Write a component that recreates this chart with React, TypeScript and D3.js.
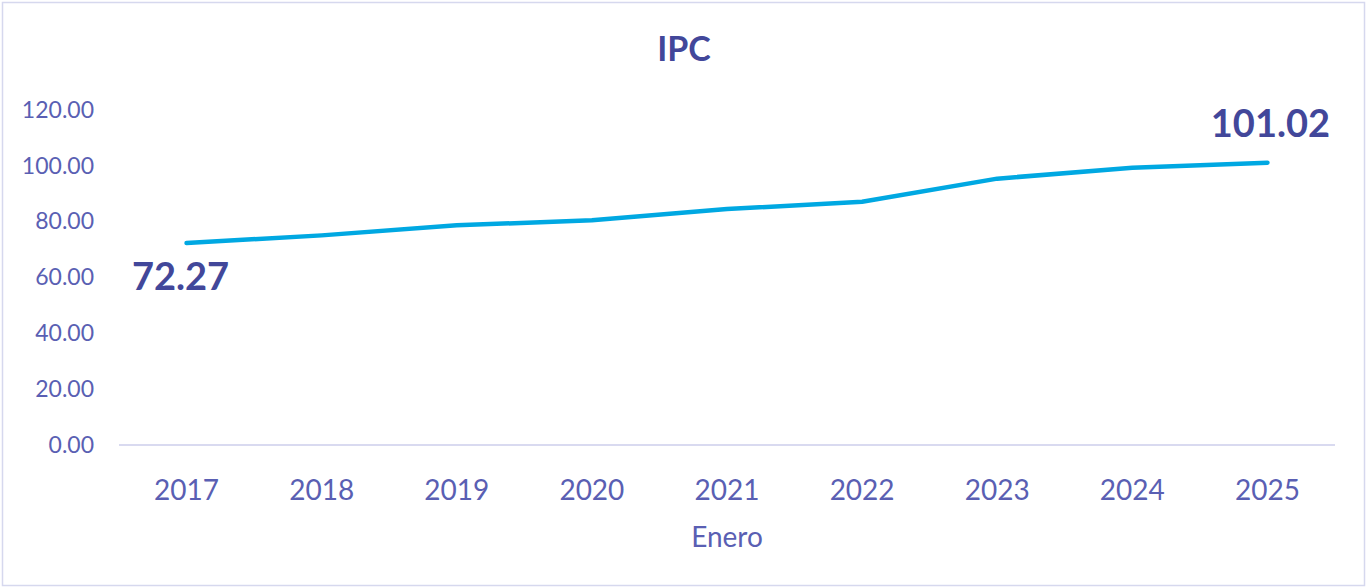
import React from "react";
import * as d3 from "d3";

const years = ["2017", "2018", "2019", "2020", "2021", "2022", "2023", "2024", "2025"];
const ipc = [72.27, 75.0, 78.6, 80.4, 84.4, 87.0, 95.3, 99.2, 101.02];
const yTicks = [0, 20, 40, 60, 80, 100, 120];

const W = 1366;
const H = 587;
const textColor = "#5a5fb3";
const labelColor = "#42479a";
const font = "Lato, 'Open Sans', sans-serif";

export default function App() {
  const x = d3.scaleBand<string>().domain(years).range([119, 1335]).padding(0);
  const y = d3.scaleLinear().domain([0, 120]).range([445, 109.6]);
  const cx = (d: string) => (x(d) as number) + x.bandwidth() / 2;

  const line = d3
    .line<number>()
    .x((_, i) => cx(years[i]))
    .y((v) => y(v));

  const first = ipc[0];
  const last = ipc[ipc.length - 1];

  return (
    <svg
      width={W}
      height={H}
      style={{ position: "absolute", left: 0, top: 0, background: "#fff" }}
      fontFamily={font}
    >
      <rect x={2.5} y={2.5} width={W - 4} height={H - 4} fill="#fff" stroke="#d6d8ee" strokeWidth={1.5} />
      <text x={684} y={61} textAnchor="middle" fontSize={34} fontWeight={700} fill={labelColor}>
        IPC
      </text>
      {yTicks.map((t) => (
        <text key={t} x={94} y={y(t)} dy="0.35em" textAnchor="end" fontSize={23} fill={textColor}>
          {t.toFixed(2)}
        </text>
      ))}
      <line x1={119} x2={1335} y1={y(0)} y2={y(0)} stroke="#d9daf0" strokeWidth={2} />
      {years.map((yr) => (
        <text key={yr} x={cx(yr)} y={500} textAnchor="middle" fontSize={28} fill={textColor}>
          {yr}
        </text>
      ))}
      <text x={727} y={547} textAnchor="middle" fontSize={28} fill={textColor}>
        Enero
      </text>
      <path d={line(ipc) || ""} fill="none" stroke="#00a8e2" strokeWidth={4.5} strokeLinejoin="round" strokeLinecap="round" />
      <text x={cx(years[0]) - 6} y={y(first) + 47} textAnchor="middle" fontSize={38} fontWeight={700} fill={labelColor}>
        {first.toFixed(2)}
      </text>
      <text x={cx(years[years.length - 1]) + 3} y={y(last) - 26} textAnchor="middle" fontSize={38} fontWeight={700} fill={labelColor}>
        {last.toFixed(2)}
      </text>
    </svg>
  );
}
